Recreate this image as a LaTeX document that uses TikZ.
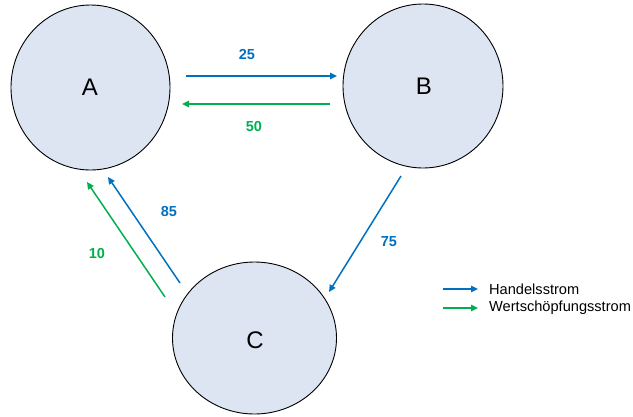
\documentclass[tikz,border=0pt]{standalone}
\usepackage{fontspec}
\setmainfont{Liberation Sans}
\usetikzlibrary{arrows.meta}
\definecolor{hblue}{HTML}{0070C0}
\definecolor{wgreen}{HTML}{00B050}
\definecolor{cfill}{HTML}{DDE5F3}
\begin{document}
\begin{tikzpicture}[x=1pt,y=-1pt,
  circ/.style={draw=black,line width=0.9pt,fill=cfill},
  lett/.style={font=\fontsize{24}{28}\selectfont},
  flow/.style={line width=1.5pt,-{Triangle[length=7pt,width=6.5pt]}},
  hflow/.style={flow,draw=hblue},
  wflow/.style={flow,draw=wgreen},
  hlab/.style={text=hblue,font=\fontsize{14.5}{17}\selectfont\bfseries},
  wlab/.style={text=wgreen,font=\fontsize{14.5}{17}\selectfont\bfseries},
  leg/.style={font=\fontsize{14.6}{17}\selectfont,anchor=west,inner sep=0pt}]
\useasboundingbox (0,0) rectangle (633,416);
\draw[circ] (90.5,87.5) ellipse [x radius=79.5, y radius=82.5];
\draw[circ] (423,86) ellipse [x radius=80, y radius=82];
\draw[circ] (254.5,338) ellipse [x radius=82, y radius=76];
\node[lett] (A) at (90,87) {A};
\node[lett] (B) at (424,86) {B};
\node[lett] (C) at (255,340) {C};
\coordinate (ab1) at (186,76);
\coordinate (ab2) at (337,76);
\coordinate (ba1) at (330,104);
\coordinate (ba2) at (182,104);
\coordinate (ca1) at (180,283);
\coordinate (ca2) at (108,177);
\coordinate (cg1) at (165,297);
\coordinate (cg2) at (87,182);
\coordinate (bc1) at (401,176);
\coordinate (bc2) at (329,292);
\draw[hflow] (ab1) -- (ab2);
\draw[wflow] (ba1) -- (ba2);
\draw[hflow] (ca1) -- (ca2);
\draw[wflow] (cg1) -- (cg2);
\draw[hflow] (bc1) -- (bc2);
\node[hlab] (l25) at (247,55) {25};
\node[wlab] (l50) at (254,127) {50};
\node[hlab] (l85) at (169,212) {85};
\node[wlab] (l10) at (97,254) {10};
\node[hlab] (l75) at (389,242) {75};
\coordinate (lh1) at (443,289);
\coordinate (lh2) at (478,289);
\coordinate (lw1) at (443,308);
\coordinate (lw2) at (478,308);
\draw[hflow] (lh1) -- (lh2);
\draw[wflow] (lw1) -- (lw2);
\node[leg] (th) at (489,289) {Handelsstrom};
\node[leg] (tw) at (489,308) {Wertschöpfungsstrom};
\end{tikzpicture}
\end{document}
